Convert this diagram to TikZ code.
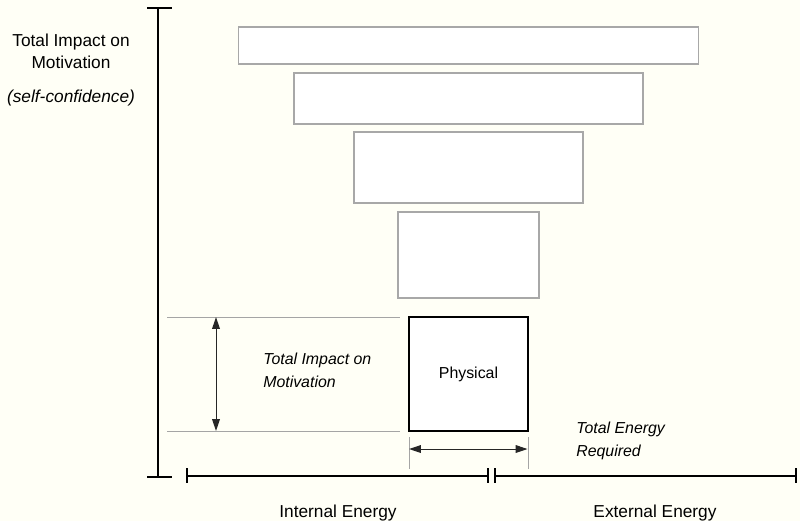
\documentclass[tikz,border=0pt]{standalone}
\usepackage{fontspec}
\setmainfont{Liberation Sans}
\usetikzlibrary{arrows.meta,positioning}
\definecolor{paper}{RGB}{255,255,246}
\definecolor{rim}{RGB}{168,168,168}
\definecolor{guidegray}{RGB}{165,165,165}

\begin{document}
\begin{tikzpicture}[x=0.025cm, y=-0.025cm,
  level/.style={draw=rim, fill=white, line width=0.9pt, inner sep=0pt, outer sep=0pt, anchor=north},
  physbox/.style={draw=black, fill=white, line width=0.8pt, inner sep=0pt, outer sep=0pt, anchor=north,
    font=\fontsize{11.3}{13}\selectfont},
  axis/.style={line width=1.5pt, black},
  guide/.style={guidegray, line width=0.7pt},
  dim/.style={{Triangle[length=8.5pt,width=5.5pt]}-{Triangle[length=8.5pt,width=5.5pt]}, black!85, line width=0.7pt},
  axislabel/.style={font=\fontsize{12.3}{15.6}\selectfont, inner sep=0pt, align=center},
  note/.style={font=\fontsize{11.3}{16.3}\selectfont\itshape, inner sep=0pt, align=left, anchor=west}
]
\fill[paper] (0,0) rectangle (800,521);
\useasboundingbox (0,0) rectangle (800,521);

\node[level, minimum width=11.5cm, minimum height=0.925cm] (lvl1) at (468.5,27) {};
\node[level, minimum width=8.725cm, minimum height=1.275cm] (lvl2) at (468.5,73) {};
\node[level, minimum width=5.725cm, minimum height=1.775cm] (lvl3) at (468.5,132) {};
\node[level, minimum width=3.525cm, minimum height=2.15cm] (lvl4) at (468.5,212) {};
\node[physbox, minimum width=2.975cm, minimum height=2.85cm] (phys) at (468.5,317) {Physical};

\coordinate (ytop) at (158,8);
\coordinate (ybot) at (158,477);
\draw[axis] (ytop) -- (ybot);
\draw[axis] (ytop) ++(-11,0) -- ++(25,0);
\draw[axis] (ybot) ++(-11,0) -- ++(25,0);

\coordinate (xa) at (187,476);
\coordinate (xb) at (488,476);
\coordinate (xc) at (495,476);
\coordinate (xd) at (796,476);
\draw[axis] (xa) -- (xb);
\draw[axis] (xc) -- (xd);
\foreach \p in {xa,xb,xc,xd}
  \draw[axis] (\p) ++(0,-8) -- ++(0,15);

\coordinate (hitop) at (167,317);
\coordinate (hibot) at (167,431);
\draw[guide] (hitop) -- (hitop -| 400,0);
\draw[guide] (hibot) -- (hibot -| 400,0);
\coordinate (imptop) at (216,317);
\coordinate (impbot) at (216,431);
\draw[dim] (imptop) -- (impbot);

\draw[guide] (phys.south west) ++(0,6) -- ++(0,32);
\draw[guide] (phys.south east) ++(0,6) -- ++(0,32);
\coordinate (ewest) at (409,449);
\coordinate (eeast) at (527.5,449);
\draw[dim] (ewest) -- (eeast);

\node[axislabel] (ylab) at (71,51) {Total Impact on\\Motivation};
\node[axislabel, font=\fontsize{12.3}{15.6}\selectfont\itshape, anchor=base] (ysub) at (71,102) {(self-confidence)};
\node[note] (impnote) at (263,370.5) {Total Impact on\\Motivation};
\node[note] (energynote) at (576,441) {Total Energy\\Required};
\node[axislabel, anchor=base] (intlab) at (338,517) {Internal Energy};
\node[axislabel, anchor=base] (extlab) at (655,517) {External Energy};
\end{tikzpicture}
\end{document}
